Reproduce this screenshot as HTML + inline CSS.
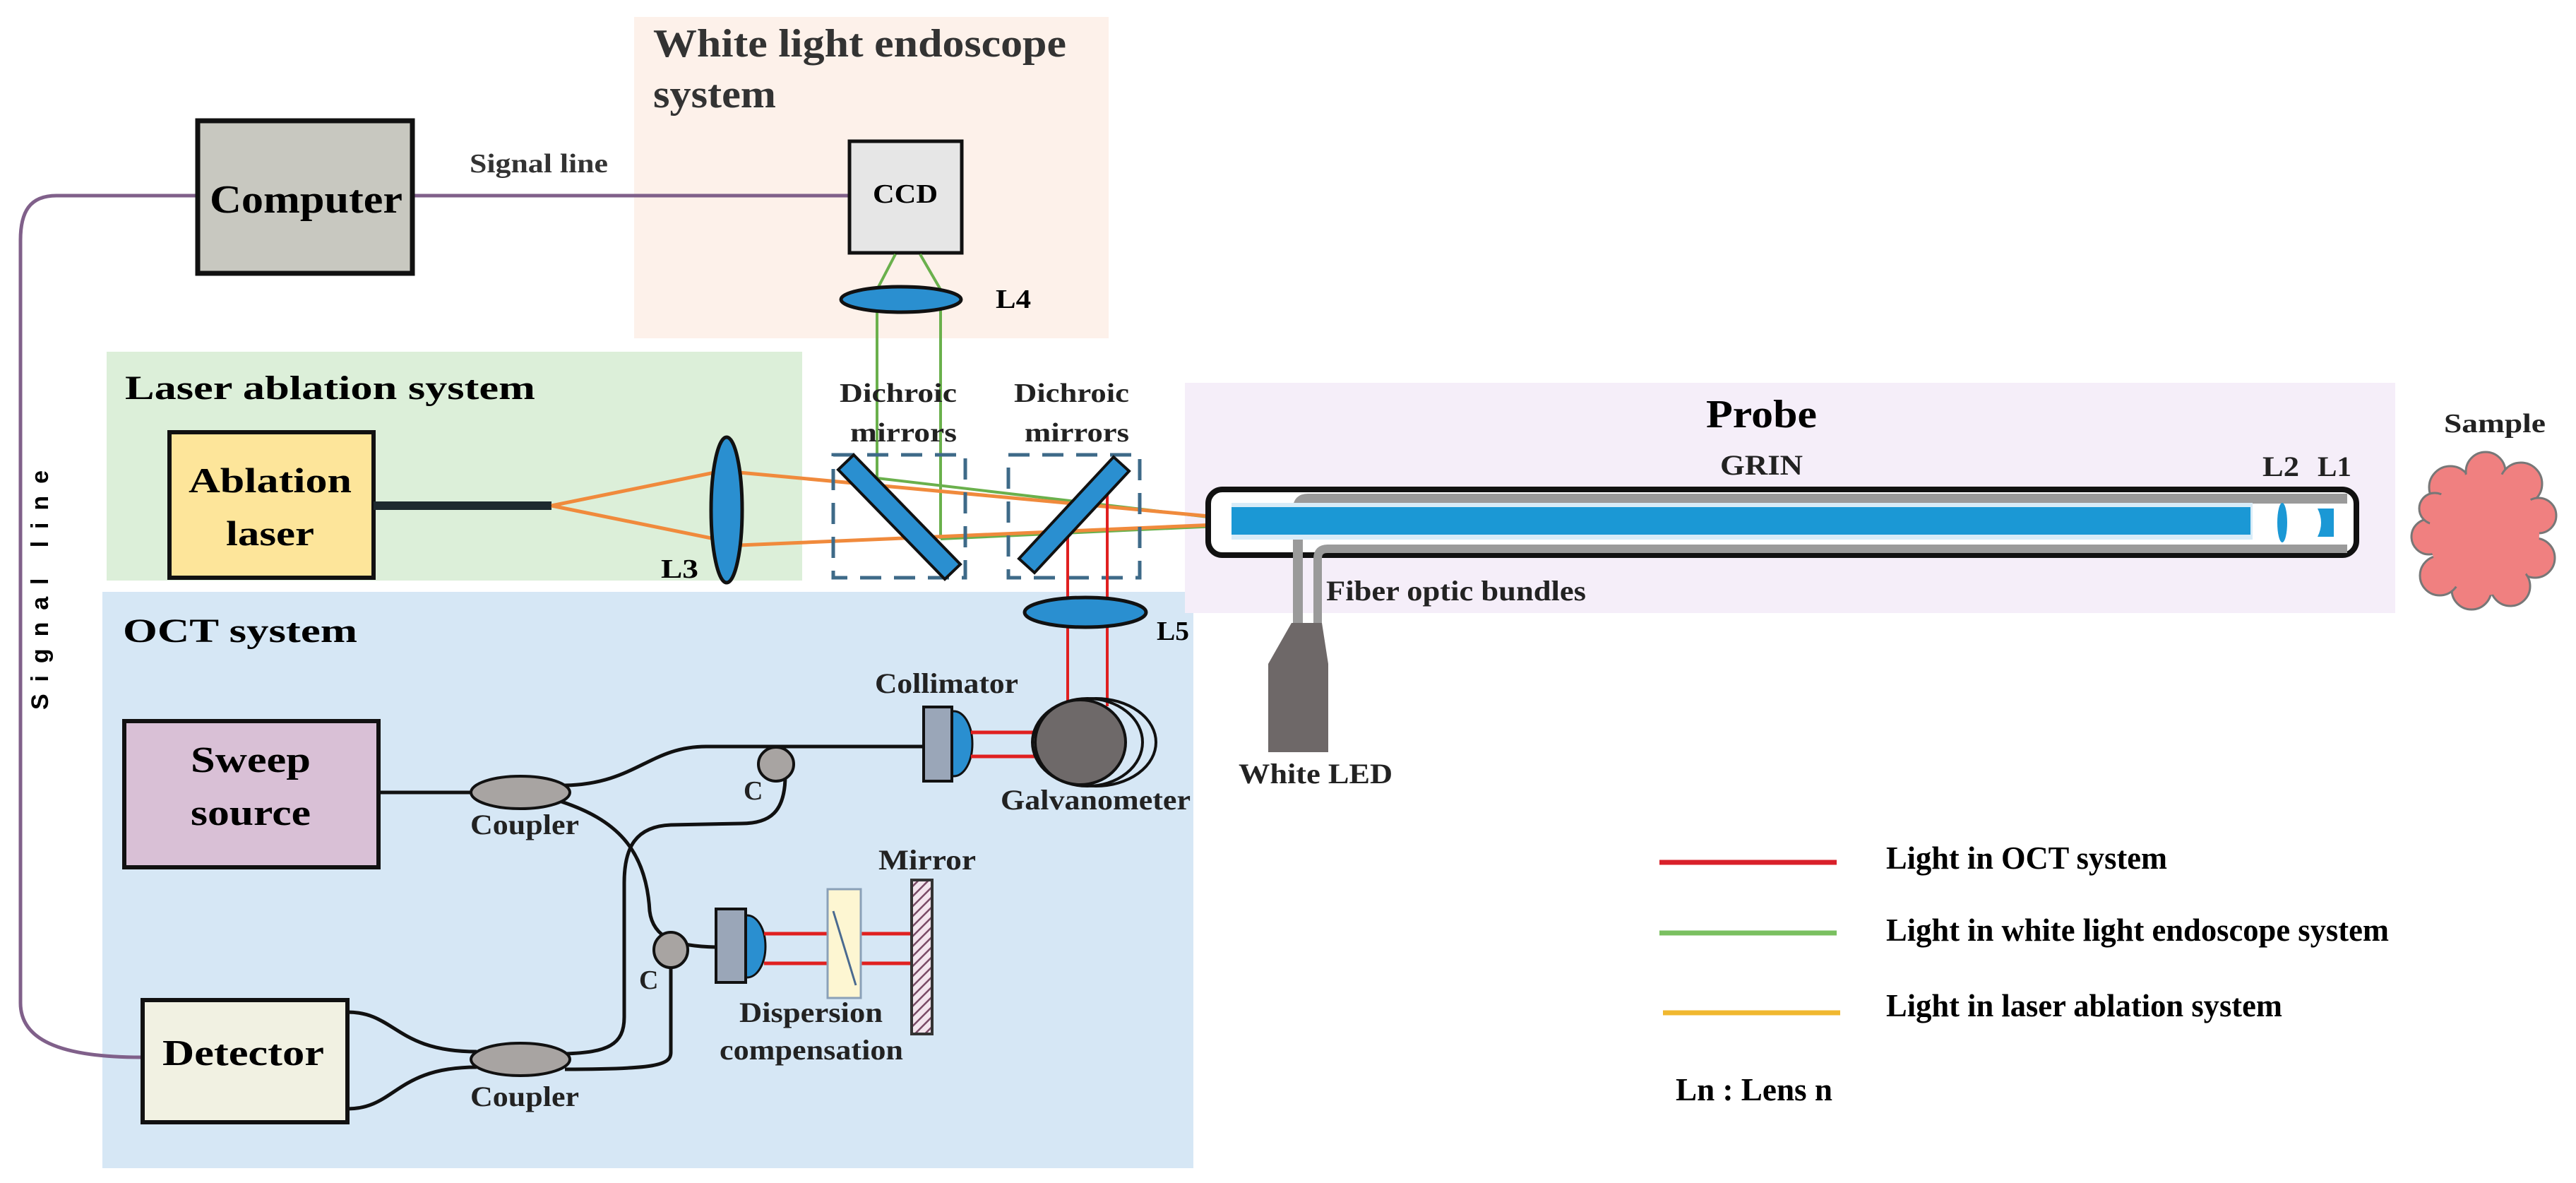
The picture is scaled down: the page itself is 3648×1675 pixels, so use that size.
<!DOCTYPE html>
<html><head><meta charset="utf-8"><style>html,body{margin:0;padding:0;background:#fff}svg{display:block}</style></head>
<body>
<svg width="3648" height="1675" viewBox="0 0 3648 1675" xmlns="http://www.w3.org/2000/svg" font-family="'Liberation Serif', serif" font-weight="bold">
<defs>
<pattern id="hatch" width="10" height="10" patternUnits="userSpaceOnUse" patternTransform="rotate(45)">
<rect width="10" height="10" fill="#f3e6ee"/><line x1="0" y1="0" x2="0" y2="10" stroke="#7a4a66" stroke-width="5"/>
</pattern>
</defs>
<rect width="3648" height="1675" fill="#fff"/>
<!-- backgrounds -->
<rect x="898" y="24" width="672" height="455" fill="#fdf1ea"/>
<rect x="151" y="498" width="985" height="324" fill="#dcefd9"/>
<rect x="145" y="838" width="1545" height="816" fill="#d6e7f5"/>
<rect x="1678" y="542" width="1714" height="326" fill="#f5eef9"/>

<!-- signal lines -->
<path d="M587 277 L1201 277" stroke="#80608a" stroke-width="5" fill="none"/>
<path d="M277 277 L80 277 C42 277 29 300 29 340 L29 1420 C29 1470 80 1497 200 1497" stroke="#80608a" stroke-width="5" fill="none"/>

<!-- computer -->
<rect x="280" y="171" width="304" height="216" fill="#c8c8c0" stroke="#111" stroke-width="7"/>
<text x="297" y="301" font-size="56" textLength="273" lengthAdjust="spacingAndGlyphs">Computer</text>
<text x="665" y="244" font-size="38" fill="#333" textLength="196" lengthAdjust="spacingAndGlyphs">Signal line</text>
<text transform="translate(68 1005) rotate(-90)" font-family="'Liberation Sans', sans-serif" font-size="34" textLength="339" lengthAdjust="spacing">Signal line</text>

<!-- white light -->
<text x="925" y="80" font-size="56" fill="#333" textLength="585" lengthAdjust="spacingAndGlyphs">White light endoscope</text>
<text x="925" y="152" font-size="56" fill="#333" textLength="174" lengthAdjust="spacingAndGlyphs">system</text>
<rect x="1203" y="200" width="159" height="158" fill="#e6e6e6" stroke="#111" stroke-width="5"/>
<text x="1236" y="287" font-size="38" textLength="92" lengthAdjust="spacingAndGlyphs">CCD</text>
<g stroke="#6ab04c" stroke-width="4" fill="none">
<path d="M1268 360 L1242 410 L1242 677"/>
<path d="M1303 360 L1332 410 L1332 763"/>
<path d="M1242 677 L1745 736"/>
<path d="M1332 763 L1745 744"/>
</g>
<ellipse cx="1276" cy="424" rx="85" ry="18" fill="#2a8fd0" stroke="#111" stroke-width="5"/>
<text x="1410" y="436" font-size="38" textLength="50" lengthAdjust="spacingAndGlyphs">L4</text>

<!-- laser ablation -->
<text x="177" y="565" font-size="48" textLength="581" lengthAdjust="spacingAndGlyphs">Laser ablation system</text>
<rect x="240" y="612" width="289" height="206" fill="#fde59a" stroke="#111" stroke-width="6"/>
<text x="267" y="697" font-size="50" textLength="231" lengthAdjust="spacingAndGlyphs">Ablation</text>
<text x="320" y="772" font-size="50" textLength="125" lengthAdjust="spacingAndGlyphs">laser</text>
<rect x="529" y="710" width="252" height="12" fill="#1e2a2e"/>
<g stroke="#f08a3c" stroke-width="5" fill="none">
<path d="M781 716 L1012 669"/><path d="M781 716 L1012 763"/>
<path d="M1047 669 L1745 734"/><path d="M1047 772 L1745 742"/>
</g>
<ellipse cx="1029" cy="722" rx="22" ry="103" fill="#2a8fd0" stroke="#111" stroke-width="5"/>
<text x="936" y="818" font-size="38" textLength="53" lengthAdjust="spacingAndGlyphs">L3</text>

<!-- dichroic -->
<text x="1189" y="569" font-size="38" fill="#222" textLength="166" lengthAdjust="spacingAndGlyphs">Dichroic</text>
<text x="1204" y="625" font-size="38" fill="#222" textLength="151" lengthAdjust="spacingAndGlyphs">mirrors</text>
<text x="1436" y="569" font-size="38" fill="#222" textLength="163" lengthAdjust="spacingAndGlyphs">Dichroic</text>
<text x="1451" y="625" font-size="38" fill="#222" textLength="148" lengthAdjust="spacingAndGlyphs">mirrors</text>
<rect x="1180" y="644" width="187" height="174" fill="none" stroke="#3e6a88" stroke-width="5" stroke-dasharray="30 18"/>
<rect x="1428" y="644" width="186" height="174" fill="none" stroke="#3e6a88" stroke-width="5" stroke-dasharray="30 18"/>
<polygon points="1209,644 1360,799 1338,820 1187,665" fill="#2a8fd0" stroke="#111" stroke-width="4"/>
<g stroke="#e02020" stroke-width="4" fill="none">
<path d="M1512 739 L1512 1000"/><path d="M1568 678 L1568 1000"/>
</g>
<polygon points="1599,667 1465,811 1443,791 1577,647" fill="#2a8fd0" stroke="#111" stroke-width="4"/>
<ellipse cx="1537" cy="867" rx="86" ry="21" fill="#2a8fd0" stroke="#111" stroke-width="5"/>
<text x="1638" y="906" font-size="38" textLength="46" lengthAdjust="spacingAndGlyphs">L5</text>

<!-- OCT -->
<text x="174" y="909" font-size="48" textLength="332" lengthAdjust="spacingAndGlyphs">OCT system</text>
<rect x="176" y="1021" width="360" height="207" fill="#d9c0d6" stroke="#111" stroke-width="6"/>
<text x="270" y="1093" font-size="52" textLength="170" lengthAdjust="spacingAndGlyphs">Sweep</text>
<text x="270" y="1168" font-size="52" textLength="170" lengthAdjust="spacingAndGlyphs">source</text>
<rect x="202" y="1416" width="290" height="173" fill="#f1f1e2" stroke="#111" stroke-width="6"/>
<text x="230" y="1508" font-size="52" textLength="229" lengthAdjust="spacingAndGlyphs">Detector</text>

<g stroke="#111" stroke-width="5" fill="none">
<path d="M536 1122 L670 1122"/>
<path d="M800 1112 C900 1110 920 1057 1000 1057 L1308 1057"/>
<path d="M1112 1098 C1112 1150 1090 1166 1050 1166 L950 1168 C900 1170 884 1200 884 1250 L884 1440 C884 1480 860 1490 800 1492"/>
<path d="M795 1135 C870 1160 915 1200 920 1290 C925 1330 960 1340 1014 1341"/>
<path d="M950 1368 L950 1490 C950 1508 930 1514 800 1514"/>
<path d="M492 1433 C560 1433 560 1489 675 1489"/>
<path d="M492 1570 C560 1570 560 1511 675 1511"/>
</g>
<ellipse cx="737" cy="1122" rx="70" ry="23" fill="#a8a4a2" stroke="#111" stroke-width="4"/>
<ellipse cx="737" cy="1500" rx="70" ry="23" fill="#a8a4a2" stroke="#111" stroke-width="4"/>
<ellipse cx="1099" cy="1082" rx="25" ry="24" fill="#a8a4a2" stroke="#111" stroke-width="4"/>
<ellipse cx="950" cy="1345" rx="24" ry="25" fill="#a8a4a2" stroke="#111" stroke-width="4"/>
<text x="666" y="1181" font-size="40" fill="#222" textLength="154" lengthAdjust="spacingAndGlyphs">Coupler</text>
<text x="666" y="1566" font-size="40" fill="#222" textLength="154" lengthAdjust="spacingAndGlyphs">Coupler</text>
<text x="1053" y="1132" font-size="38" fill="#222">C</text>
<text x="905" y="1400" font-size="38" fill="#222">C</text>

<!-- collimator 1 / galvo -->
<ellipse cx="1351" cy="1053" rx="26" ry="46" fill="#2a8fd0" stroke="#111" stroke-width="3"/>
<rect x="1308" y="1001" width="40" height="105" fill="#9aa6b8" stroke="#111" stroke-width="4"/>
<g stroke="#e02020" stroke-width="5"><path d="M1375 1037 L1480 1037"/><path d="M1375 1071 L1480 1071"/></g>
<ellipse cx="1552" cy="1051" rx="85" ry="62" fill="none" stroke="#111" stroke-width="4"/>
<ellipse cx="1540" cy="1051" rx="78" ry="62" fill="none" stroke="#111" stroke-width="4"/>
<ellipse cx="1530" cy="1051" rx="64" ry="60" fill="#6e6969" stroke="#111" stroke-width="4"/>
<text x="1239" y="981" font-size="40" fill="#222" textLength="203" lengthAdjust="spacingAndGlyphs">Collimator</text>
<text x="1417" y="1146" font-size="40" fill="#222" textLength="269" lengthAdjust="spacingAndGlyphs">Galvanometer</text>

<!-- reference arm -->
<ellipse cx="1058" cy="1340" rx="26" ry="44" fill="#2a8fd0" stroke="#111" stroke-width="3"/>
<rect x="1014" y="1287" width="42" height="104" fill="#9aa6b8" stroke="#111" stroke-width="4"/>
<g stroke="#e02020" stroke-width="5"><path d="M1082 1322 L1291 1322"/><path d="M1082 1364 L1291 1364"/></g>
<rect x="1172" y="1259" width="47" height="154" fill="#fdf6d2" stroke="#8aa0b8" stroke-width="3"/>
<path d="M1180 1290 L1212 1395" stroke="#4a6a90" stroke-width="3"/>
<rect x="1291" y="1246" width="29" height="218" fill="url(#hatch)" stroke="#333" stroke-width="4"/>
<text x="1244" y="1231" font-size="40" fill="#222" textLength="138" lengthAdjust="spacingAndGlyphs">Mirror</text>
<text x="1047" y="1447" font-size="40" fill="#222" textLength="203" lengthAdjust="spacingAndGlyphs">Dispersion</text>
<text x="1019" y="1500" font-size="40" fill="#222" textLength="260" lengthAdjust="spacingAndGlyphs">compensation</text>

<!-- probe -->
<text x="2416" y="605" font-size="56" textLength="157" lengthAdjust="spacingAndGlyphs">Probe</text>
<text x="2436" y="672" font-size="40" fill="#222" textLength="117" lengthAdjust="spacingAndGlyphs">GRIN</text>
<text x="3204" y="674" font-size="40" fill="#222" textLength="52" lengthAdjust="spacingAndGlyphs">L2</text>
<text x="3282" y="674" font-size="40" fill="#222" textLength="48" lengthAdjust="spacingAndGlyphs">L1</text>
<rect x="1711" y="693" width="1626" height="93" rx="20" fill="#fff" stroke="#111" stroke-width="8"/>
<path d="M1838 885 L1838 720 Q1838 706 1852 706 L3324 706" stroke="#9a9a9a" stroke-width="14" fill="none"/>
<path d="M1866 885 L1866 791 Q1866 777 1880 777 L3324 777" stroke="#9a9a9a" stroke-width="12" fill="none"/>
<rect x="1744" y="712" width="1446" height="52" fill="#d8ecf8"/>
<rect x="1744" y="718" width="1443" height="39" fill="#1b98d5"/>
<ellipse cx="3232" cy="740" rx="7" ry="28" fill="#1b98d5"/>
<path d="M3282 720 L3305 720 L3305 760 L3282 760 Q3292 740 3282 720 Z" fill="#1b98d5"/>
<polygon points="1829,882 1872,882 1881,940 1881,1065 1796,1065 1796,940" fill="#6e6868"/>
<text x="1878" y="850" font-size="40" fill="#222" textLength="368" lengthAdjust="spacingAndGlyphs">Fiber optic bundles</text>
<text x="1754" y="1109" font-size="40" fill="#222" textLength="218" lengthAdjust="spacingAndGlyphs">White LED</text>

<!-- sample -->
<text x="3461" y="612" font-size="38" fill="#222" textLength="144" lengthAdjust="spacingAndGlyphs">Sample</text>
<g fill="#f08080" stroke="#777" stroke-width="3">
<circle cx="3470" cy="690" r="30"/><circle cx="3520" cy="668" r="28"/><circle cx="3570" cy="685" r="30"/>
<circle cx="3595" cy="730" r="25"/><circle cx="3590" cy="790" r="28"/><circle cx="3555" cy="830" r="28"/>
<circle cx="3500" cy="835" r="28"/><circle cx="3455" cy="815" r="28"/><circle cx="3440" cy="760" r="25"/><circle cx="3448" cy="720" r="22"/>
</g>
<ellipse cx="3518" cy="755" rx="78" ry="88" fill="#f08080"/>

<!-- legend -->
<g stroke-width="7">
<path d="M2350 1221 L2601 1221" stroke="#d9202a"/>
<path d="M2350 1321 L2601 1321" stroke="#7ac060"/>
<path d="M2355 1434 L2606 1434" stroke="#f0b830"/>
</g>
<text x="2671" y="1230" font-size="46" textLength="398" lengthAdjust="spacingAndGlyphs">Light in OCT system</text>
<text x="2671" y="1332" font-size="46" textLength="712" lengthAdjust="spacingAndGlyphs">Light in white light endoscope system</text>
<text x="2671" y="1439" font-size="46" textLength="561" lengthAdjust="spacingAndGlyphs">Light in laser ablation system</text>
<text x="2373" y="1558" font-size="46" textLength="222" lengthAdjust="spacingAndGlyphs">Ln : Lens n</text>
</svg>
</body></html>
